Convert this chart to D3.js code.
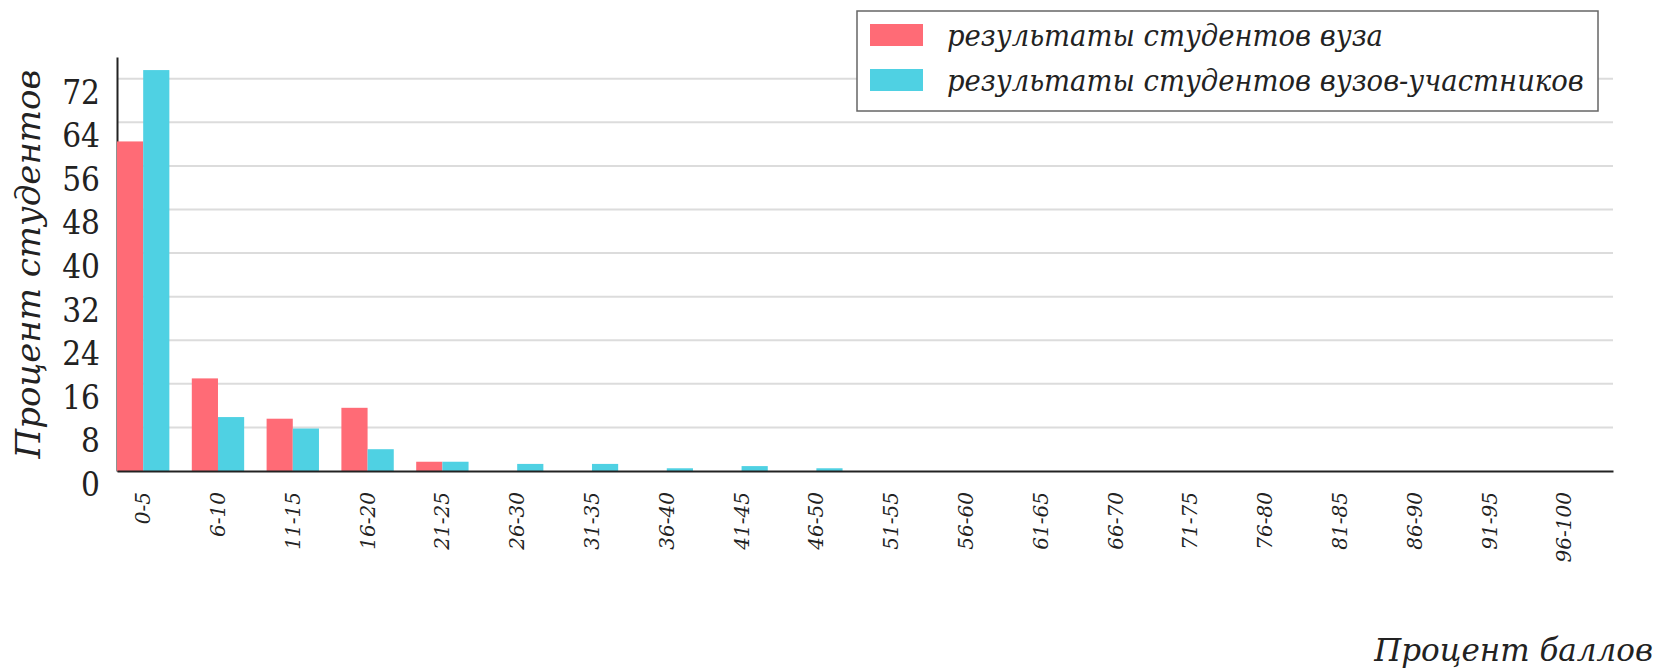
<!DOCTYPE html>
<html>
<head>
<meta charset="utf-8">
<script src="https://cdn.jsdelivr.net/npm/d3@7"></script>
<style>
    body { margin: 0; background: #fff; }
    text { font-family: "DejaVu Serif", serif; fill: #222; }
    .narrow { font-family: "DejaVu Serif Condensed", "DejaVu Serif", serif; font-stretch: condensed; }
</style>
</head>
<body>
<svg id="chart" width="1659" height="670"></svg>
<script>
// score ranges, percent of points
let categories = ["0-5","6-10","11-15","16-20","21-25","26-30","31-35","36-40","41-45","46-50",
                  "51-55","56-60","61-65","66-70","71-75","76-80","81-85","86-90","91-95","96-100"];

// percent of students, this university
let ownValues = [60.5, 17.0, 9.6, 11.6, 1.7, 0, 0, 0, 0, 0,
                 0, 0, 0, 0, 0, 0, 0, 0, 0, 0];

// percent of students, all participating universities
let allValues = [73.6, 9.9, 7.8, 4.0, 1.7, 1.3, 1.3, 0.5, 0.9, 0.5,
                 0, 0, 0, 0, 0, 0, 0, 0, 0, 0];

let yTicks = [0, 8, 16, 24, 32, 40, 48, 56, 64, 72];

let seriesNames = ["результаты студентов вуза", "результаты студентов вузов-участников"];
let seriesColours = ["#ff6b76", "#4fd1e3"];

let svg = d3.select("#chart");
let margin = { left: 117, right: 46, top: 57, bottom: 199 };
let width = 1659 - margin.left - margin.right;
let height = 670 - margin.top - margin.bottom;

let g = svg.append("g").attr("transform", "translate(" + margin.left + "," + margin.top + ")");

let x = d3.scaleBand()
    .domain(categories)
    .range([0, width])
    .paddingInner(0.3)
    .paddingOuter(0.15)
    .align(0);

let x1 = d3.scaleBand()
    .domain([0, 1])
    .range([0, x.bandwidth()]);

let y = d3.scaleLinear()
    .domain([0, 76])
    .range([height, 0]);

//grid lines
g.append("g")
    .selectAll("line")
    .data(yTicks.filter(d => d > 0))
    .join("line")
    .attr("x1", 0).attr("x2", width)
    .attr("y1", d => y(d)).attr("y2", d => y(d))
    .style("stroke", "#dcdcdc")
    .style("stroke-width", 2);

//y axis, labels hang just under their line as in the original
let yAxis = g.append("g")
    .call(d3.axisLeft(y).tickValues(yTicks).tickSize(0).tickPadding(17));
yAxis.select(".domain").style("stroke", "#222").style("stroke-width", 2);
yAxis.selectAll("text")
    .classed("narrow", true)
    .attr("dy", "0.74em")
    .style("font-size", "33px")
    .style("fill", "#222");

//bars
let groups = g.append("g")
    .selectAll("g")
    .data(categories)
    .join("g")
    .attr("transform", d => "translate(" + x(d) + ",0)");

groups.selectAll("rect")
    .data((d, i) => [ownValues[i], allValues[i]])
    .join("rect")
    .attr("x", (d, j) => x1(j))
    .attr("width", x1.bandwidth())
    .attr("y", d => y(d))
    .attr("height", d => height - y(d))
    .style("fill", (d, j) => seriesColours[j]);

//x axis
let xAxis = g.append("g")
    .attr("transform", "translate(0," + height + ")")
    .call(d3.axisBottom(x).tickSize(0).tickPadding(0));
xAxis.select(".domain").style("stroke", "#222").style("stroke-width", 2);
xAxis.selectAll("text")
    .attr("transform", "translate(0,21) rotate(-90)")
    .attr("x", 0).attr("y", 0)
    .attr("dy", "0.35em")
    .style("text-anchor", "end")
    .style("font-size", "20px")
    .style("font-style", "italic")
    .style("font-family", "DejaVu Serif")
    .style("fill", "#222");

//axis titles
svg.append("text")
    .attr("transform", "translate(40,264) rotate(-90)")
    .style("text-anchor", "middle")
    .style("font-size", "34px")
    .style("font-style", "italic")
    .text("Процент студентов");

svg.append("text")
    .attr("x", 1653).attr("y", 661)
    .style("text-anchor", "end")
    .style("font-size", "31px")
    .style("font-style", "italic")
    .text("Процент баллов");

//legend
let legend = svg.append("g").attr("transform", "translate(857,11)");
legend.append("rect")
    .attr("width", 741).attr("height", 100)
    .style("fill", "#fff")
    .style("stroke", "#666")
    .style("stroke-width", 1.5);

let items = legend.selectAll("g.item")
    .data(seriesNames)
    .join("g")
    .classed("item", true)
    .attr("transform", (d, i) => "translate(13," + (13 + i * 45) + ")");

items.append("rect")
    .attr("width", 53).attr("height", 22)
    .style("fill", (d, i) => seriesColours[i]);

items.append("text")
    .classed("narrow", true)
    .attr("x", 77).attr("y", 22)
    .style("font-size", "30.5px")
    .style("font-style", "italic")
    .text(d => d);
</script>
</body>
</html>
